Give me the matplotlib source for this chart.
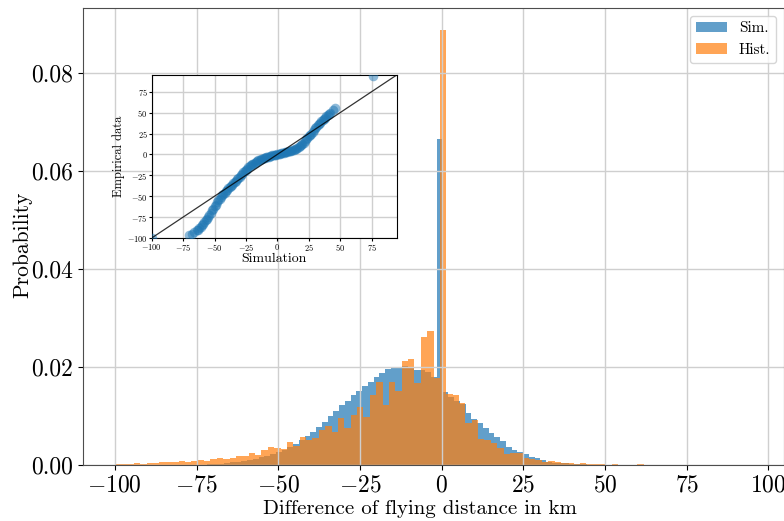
import numpy as np
import matplotlib
matplotlib.use("Agg")
import matplotlib.pyplot as plt

plt.rcParams['font.family'] = 'serif'
plt.rcParams['font.serif'] = ['cmr10', 'DejaVu Serif']
plt.rcParams['mathtext.fontset'] = 'cm'
plt.rcParams['axes.formatter.use_mathtext'] = True

# histogram ranges (100 bins each, like plt.hist on the raw data)
n_bins = 100
sim_range = (-100, 76)
hist_range = (-100, 95)

# bar heights, "Sim." (blue)
sim_heights = [
    0.00003, 0, 0, 0, 0, 0, 0, 0, 0, 0, 0, 0, 0, 0,
    0.0001, 0.0001, 0.0002, 0.0002, 0.0003, 0.0004, 0.0006, 0.0007, 0.0009, 0.0011,
    0.0013, 0.0016, 0.0019, 0.0023, 0.0027, 0.0031, 0.0036, 0.0042, 0.0051, 0.0059,
    0.0068, 0.0077, 0.0088, 0.0100, 0.0111, 0.0122, 0.0131, 0.0143, 0.0150, 0.0162,
    0.0170, 0.0180, 0.0188, 0.0195, 0.0200, 0.0198, 0.0201, 0.0199, 0.0194, 0.0194,
    0.0190, 0.0179, 0.0666, 0.0148, 0.0138, 0.0131, 0.0125, 0.0106, 0.0093, 0.0085,
    0.0075, 0.0066, 0.0057, 0.0048, 0.0037, 0.0031, 0.0026, 0.0022, 0.0017, 0.0014,
    0.0010, 0.0007, 0.0005, 0.0004, 0.0004, 0.0003, 0.0002, 0.0002, 0.0001, 0.0001,
    0.0001, 0.00005, 0, 0, 0, 0, 0, 0, 0, 0, 0, 0, 0, 0, 0, 0.00003,
]

# bar heights, "Hist." (orange)
hist_heights = [
    0.0003, 0.0002, 0.0003, 0.0004, 0.0003, 0.0005, 0.0004, 0.0006, 0.0006, 0.0007,
    0.0008, 0.0007, 0.0009, 0.0010, 0.0009, 0.0013, 0.0014, 0.0012, 0.0015, 0.0019,
    0.0018, 0.0025, 0.0021, 0.0030, 0.0036, 0.0035, 0.0032, 0.0046, 0.0038, 0.0057,
    0.0051, 0.0055, 0.0072, 0.0080, 0.0068, 0.0095, 0.0075, 0.0102, 0.0118, 0.0097,
    0.0143, 0.0170, 0.0123, 0.0170, 0.0150, 0.0212, 0.0216, 0.0167, 0.0261, 0.0274,
    0.0177, 0.0888, 0.0145, 0.0143, 0.0126, 0.0085, 0.0092, 0.0054, 0.0051, 0.0044,
    0.0035, 0.0022, 0.0025, 0.0024, 0.0014, 0.0012, 0.0010, 0.0007, 0.0008, 0.0007,
    0.0005, 0.0004, 0.0003, 0.0004, 0.0003, 0.0002, 0.0003, 0.0001, 0.0002, 0.0001,
    0.0001, 0, 0.0003, 0, 0, 0, 0, 0, 0, 0, 0, 0, 0, 0, 0, 0, 0, 0, 0, 0.00003,
]

# QQ plot points (simulation quantile, empirical quantile)
qq_sim = [-100, -70, -68, -66, -64, -63, -62, -61, -60, -59, -58, -57, -56, -55,
          -54, -53, -52, -51, -50, -49, -48, -47, -46, -45, -44, -43, -42, -41,
          -40, -39, -38, -37, -36, -35, -34, -33, -32, -31, -30, -29, -28, -27,
          -26, -25, -24, -23, -22, -21, -20, -19, -18, -17, -16, -15, -14, -13,
          -12, -11, -10, -9, -8, -7, -6, -5, -4, -3, -2, -1, 0, 1, 2, 3, 4, 5,
          6, 7, 8, 9, 10, 11, 12, 13, 14, 15, 16, 17, 18, 19, 20, 21, 22, 23,
          24, 25, 26, 27, 28, 29, 30, 31, 32, 33, 34, 35, 36, 37, 38, 39, 40,
          41, 42, 44, 46, 76]
qq_emp = [-100, -96, -95, -93, -91, -90, -88, -87, -85, -83, -81, -79, -77, -75,
          -72, -70, -67, -65, -62, -60, -57, -55, -53, -51, -49, -47.5, -46, -44,
          -42, -40.5, -39, -37.5, -36, -34.5, -33, -31.5, -30, -28.5, -27, -25,
          -23, -21.5, -20, -18.5, -17, -15.5, -14, -13, -12, -11, -10, -9, -8,
          -7.2, -6.5, -5.7, -5, -4.5, -4, -3.5, -3, -2.5, -2, -1.6, -1.2, -0.8,
          -0.5, -0.2, 0, 0.3, 0.7, 1.1, 1.5, 1.9, 2.3, 2.6, 3, 3.5, 4, 4.5, 5,
          5.6, 6.2, 7, 8, 9, 10, 11.2, 12.5, 14, 16, 18, 20, 21.5, 23, 25, 27,
          29, 31, 33, 35, 36.5, 38, 39.5, 41, 42.5, 44, 45.5, 47, 48.5, 50, 53,
          56, 94]

sim_edges = np.linspace(sim_range[0], sim_range[1], n_bins + 1)
hist_edges = np.linspace(hist_range[0], hist_range[1], n_bins + 1)

fig = plt.figure(figsize=(7.84, 5.21), dpi=100)
ax = fig.add_axes([83 / 784, 56 / 521, 701 / 784, 457 / 521])

ax.hist(sim_edges[:-1], bins=sim_edges, weights=sim_heights, alpha=0.7,
        color='tab:blue', label='Sim.')
ax.hist(hist_edges[:-1], bins=hist_edges, weights=hist_heights, alpha=0.7,
        color='tab:orange', label='Hist.')
ax.grid(True, color='#cfcfcf', lw=1)
ax.set_xticks(np.arange(-100, 101, 25))
ax.set_yticks(np.arange(0, 0.081, 0.02))
ax.yaxis.set_major_formatter(matplotlib.ticker.FormatStrFormatter('%.2f'))
ax.tick_params(labelsize=17)
for s in ax.spines.values():
    s.set_color('0.3')
ax.set_xlabel('Difference of flying distance in km', fontsize=15, labelpad=2)
ax.set_ylabel('Probability', fontsize=15.5, labelpad=-1)
ax.xaxis.label.set_x(0.481)
ax.yaxis.label.set_y(0.481)
ax.legend(loc='upper right', fontsize=11)

# inset QQ plot
ins = fig.add_axes([151.7 / 784, 283 / 521, 245 / 784, 163 / 521])
ins.scatter(qq_sim, qq_emp, s=48, alpha=0.5, color='tab:blue', lw=0, zorder=3)
ins.plot([-100, 95], [-100, 95], color='k', lw=0.9, alpha=0.8, zorder=4)
ins.set_xlim(-100, 95)
ins.set_ylim(-100, 95)
ins.set_xticks(np.arange(-100, 76, 25))
ins.set_yticks(np.arange(-100, 76, 25))
ins.grid(True, color='#cfcfcf', lw=1)
ins.tick_params(labelsize=6, length=2, pad=1)
ins.set_xlabel('Simulation', fontsize=10, labelpad=0)
ins.set_ylabel('Empirical data', fontsize=9, labelpad=1)

fig.savefig('out.png', dpi=100)
